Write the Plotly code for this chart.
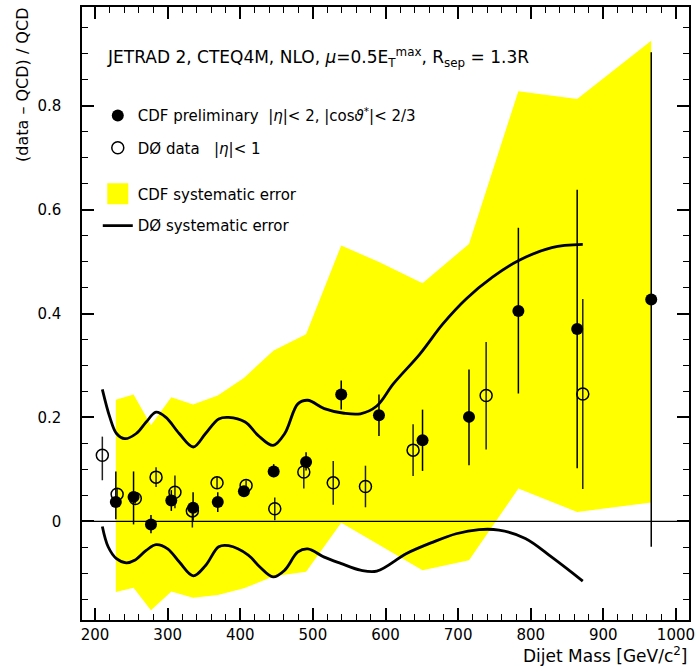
import plotly.graph_objects as go

# ---------------- data ----------------
# CDF preliminary (filled circles)
cdf_mass = [228.6, 253, 277, 305, 335, 369, 405, 446, 490.6, 539, 591, 651, 715, 783, 864, 966]
cdf_val = [0.037, 0.047, -0.006, 0.040, 0.026, 0.037, 0.058, 0.096, 0.114, 0.244, 0.204, 0.156, 0.201, 0.405, 0.370, 0.427]
cdf_err_up = [0.059, 0.049, 0.018, 0.020, 0.030, 0.019, 0.010, 0.014, 0.019, 0.027, 0.040, 0.059, 0.091, 0.160, 0.268, 0.476]
cdf_err_dn = [0.033, 0.053, 0.017, 0.020, 0.025, 0.019, 0.010, 0.011, 0.016, 0.029, 0.040, 0.059, 0.093, 0.159, 0.268, 0.476]

# CDF systematic error band (upper / lower edges at CDF masses)
cdf_sys_hi = [0.234, 0.244, 0.185, 0.239, 0.225, 0.242, 0.276, 0.329, 0.360, 0.531, 0.499, 0.458, 0.534, 0.828, 0.813, 0.925]
cdf_sys_lo = [-0.136, -0.128, -0.171, -0.135, -0.147, -0.142, -0.129, -0.106, -0.097, -0.003, -0.045, -0.094, -0.075, 0.063, 0.018, 0.036]

# D0 data (open circles)
d0_mass = [210, 230.4, 255.4, 284, 310, 334, 368, 408, 447.5, 487.5, 528, 572.4, 638, 738.6, 871.7]
d0_val = [0.127, 0.052, 0.044, 0.085, 0.056, 0.020, 0.074, 0.069, 0.024, 0.095, 0.074, 0.067, 0.137, 0.242, 0.245]
d0_err_up = [0.036, 0.010, 0.010, 0.019, 0.032, 0.017, 0.012, 0.010, 0.022, 0.016, 0.042, 0.040, 0.050, 0.103, 0.183]
d0_err_dn = [0.048, 0.010, 0.010, 0.019, 0.031, 0.032, 0.012, 0.010, 0.022, 0.032, 0.042, 0.040, 0.050, 0.104, 0.183]

# D0 systematic error curves
d0_sys_hi_mass = [210, 220.4, 229.5, 240.9, 256.8, 270.4, 284, 297.7, 315.8, 335.3, 352.2, 370.3, 383.9, 406.7,
                  424.8, 445.2, 461.2, 479.3, 492.9, 515.7, 542.9, 565.5, 588, 611, 647.3, 679, 711, 747.3, 783.5, 829, 871.7]
d0_sys_hi = [0.254, 0.200, 0.169, 0.159, 0.169, 0.191, 0.210, 0.200, 0.169, 0.143, 0.169, 0.197, 0.200, 0.191,
             0.165, 0.146, 0.169, 0.226, 0.233, 0.217, 0.208, 0.207, 0.222, 0.265, 0.322, 0.380, 0.428, 0.470, 0.502, 0.527, 0.533]
d0_sys_lo_mass = [210, 218, 229.5, 243, 254.5, 270.4, 284, 300, 315.8, 335.3, 352.2, 370.3, 383.9, 411, 427, 445.2,
                  461.2, 479.3, 492.9, 515.7, 538.3, 565.5, 588, 629, 665.5, 697.3, 729, 756.3, 792.6, 829, 871.7]
d0_sys_lo = [-0.010, -0.049, -0.072, -0.080, -0.075, -0.056, -0.045, -0.053, -0.078, -0.105, -0.085, -0.049, -0.047,
             -0.065, -0.088, -0.107, -0.094, -0.059, -0.053, -0.069, -0.081, -0.094, -0.096, -0.062, -0.040, -0.024,
             -0.016, -0.017, -0.033, -0.069, -0.115]

x_ticks = [200, 300, 400, 500, 600, 700, 800, 900, 1000]
y_ticks = [0, 0.2, 0.4, 0.6, 0.8]

FONT = "DejaVu Sans"
YELLOW = "#ffff00"

fig = go.Figure()

# CDF systematic band
fig.add_trace(go.Scatter(
    x=cdf_mass + cdf_mass[::-1],
    y=cdf_sys_hi + cdf_sys_lo[::-1],
    fill="toself", fillcolor=YELLOW, mode="none", line=dict(width=0),
    showlegend=False, hoverinfo="skip"))

# D0 systematic curves
fig.add_trace(go.Scatter(
    x=d0_sys_hi_mass, y=d0_sys_hi, mode="lines",
    line=dict(color="black", width=2.8, shape="spline", smoothing=1),
    name="DØ systematic error", legend="legend4", showlegend=True))
fig.add_trace(go.Scatter(
    x=d0_sys_lo_mass, y=d0_sys_lo, mode="lines",
    line=dict(color="black", width=2.8, shape="spline", smoothing=1),
    showlegend=False))

# legend entry for CDF systematic band (square swatch)
fig.add_trace(go.Scatter(
    x=[None], y=[None], mode="markers",
    marker=dict(symbol="square", size=18, color=YELLOW, line=dict(color=YELLOW, width=5)),
    name="CDF systematic error", legend="legend3", showlegend=True))

# D0 data
fig.add_trace(go.Scatter(
    x=d0_mass, y=d0_val, mode="markers",
    marker=dict(symbol="circle-open", size=12, color="black", line=dict(width=1.5, color="black")),
    error_y=dict(type="data", symmetric=False, array=d0_err_up, arrayminus=d0_err_dn,
                 thickness=1.5, width=0, color="#222222"),
    name="DØ data\u00a0\u00a0\u00a0|<i>η</i>|< 1", legend="legend2", showlegend=True))

# CDF data
fig.add_trace(go.Scatter(
    x=cdf_mass, y=cdf_val, mode="markers",
    marker=dict(symbol="circle", size=12, color="black"),
    error_y=dict(type="data", symmetric=False, array=cdf_err_up, arrayminus=cdf_err_dn,
                 thickness=1.5, width=0, color="black"),
    name="CDF preliminary\u00a0\u00a0|<i>η</i>|< 2, |cos<i>ϑ</i><sup>*</sup>|< 2/3",
    legend="legend", showlegend=True))

def leg(y):
    return dict(x=0.026, y=y, xanchor="left", yanchor="middle", bgcolor="rgba(0,0,0,0)",
                borderwidth=0, font=dict(family=FONT, size=15, color="black"), itemsizing="trace")

fig.update_layout(
    width=700, height=670,
    margin=dict(l=82, r=5, t=6, b=50),
    paper_bgcolor="white", plot_bgcolor="white",
    font=dict(family=FONT, size=15, color="black"),
    legend=leg(0.8225), legend2=leg(0.770), legend3=leg(0.695), legend4=leg(0.643),
)

fig.update_xaxes(
    range=[182, 1018], tickmode="array", tickvals=x_ticks, ticktext=[str(v) for v in x_ticks],
    ticks="inside", ticklen=12, tickwidth=1.5, tickcolor="black",
    minor=dict(ticks="inside", dtick=20, tick0=200, ticklen=6, tickwidth=1.2, tickcolor="black", showgrid=False),
    showline=True, linecolor="black", linewidth=1.5, mirror="allticks",
    showgrid=False, zeroline=False, tickfont=dict(family=FONT, size=15, color="black"))
fig.update_yaxes(
    range=[-0.19, 0.99], tickmode="array", tickvals=y_ticks, ticktext=["0", "0.2", "0.4", "0.6", "0.8"],
    ticks="inside", ticklen=12, tickwidth=1.5, tickcolor="black", ticklabelstandoff=16,
    minor=dict(ticks="inside", dtick=0.05, tick0=0, ticklen=6, tickwidth=1.2, tickcolor="black", showgrid=False),
    showline=True, linecolor="black", linewidth=1.5, mirror="allticks",
    showgrid=False, zeroline=False, tickfont=dict(family=FONT, size=15, color="black"))

# zero reference line
fig.add_shape(type="line", xref="paper", x0=0, x1=1, yref="y", y0=0, y1=0,
              line=dict(color="black", width=1.2), layer="above")

# title text
fig.add_annotation(
    xref="paper", yref="paper", x=0.0375, y=0.917, xanchor="left", yanchor="middle", showarrow=False,
    text="JETRAD 2, CTEQ4M, NLO, <i>μ</i>=0.5E<sub>T</sub><sup>max</sup>, R<sub>sep</sub> = 1.3R",
    font=dict(family=FONT, size=17, color="black"))

# axis titles
fig.add_annotation(
    xref="paper", yref="paper", x=-0.098, y=0.872, xanchor="center", yanchor="middle", showarrow=False,
    textangle=-90, text="(data – QCD) / QCD", font=dict(family=FONT, size=16, color="black"))
fig.add_annotation(
    xref="paper", yref="paper", x=1.0, y=-0.057, xanchor="right", yanchor="middle", showarrow=False,
    text="Dijet Mass [GeV/c<sup>2</sup>]", font=dict(family=FONT, size=17, color="black"))

fig.write_html("out.html")
